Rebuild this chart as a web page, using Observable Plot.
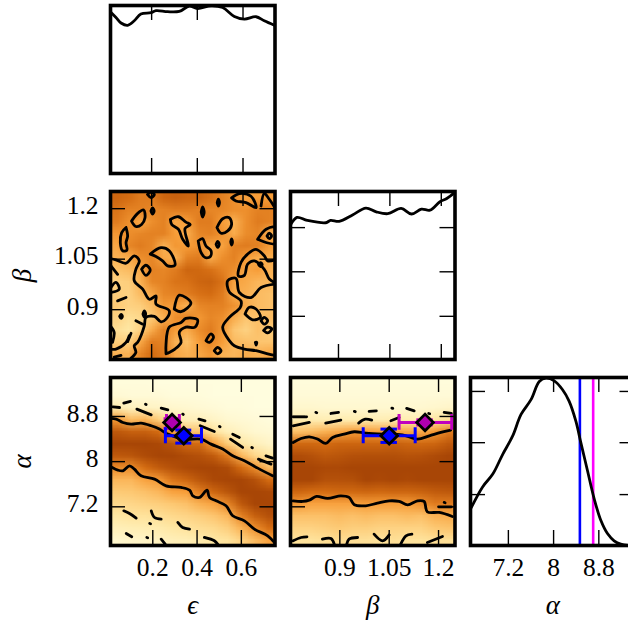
<!DOCTYPE html>
<html><head><meta charset="utf-8">
<script src="https://cdn.jsdelivr.net/npm/d3@7"></script>
<script src="https://cdn.jsdelivr.net/npm/@observablehq/plot@0.6"></script>
<style>html,body{margin:0;padding:0;background:#fff}#c{position:relative;width:628px;height:624px;overflow:hidden}#c svg{position:absolute;overflow:visible;background:transparent!important}</style>
</head><body><div id="c"></div>
<script>
// ---- tick values
const epsTicks=[0.2,0.4,0.6], betaTicks=[0.9,1.05,1.2], alphaTicks=[7.2,8,8.8];
// ---- marginal curves
const epsHist=[[.019,.963],[.044,.929],[.066,.896],[.095,.882],[.124,.909],[.153,.949],[.197,.957],[.219,.969],[.270,.963],[.321,.965],[.365,.996],[.401,.982],[.460,.998],[.511,.988],[.562,.935],[.606,.919],[.657,.933],[.693,.909],[.737,.882]];
const betaHist=[[.761,.804],[.779,.846],[.809,.828],[.863,.814],[.877,.828],[.902,.822],[.941,.860],[.980,.901],[1.010,.879],[1.044,.868],[1.083,.899],[1.113,.866],[1.142,.895],[1.167,.889],[1.196,.939],[1.216,.958],[1.240,.996]];
const alphaHist=[[6.541,.224],[6.747,.350],[6.924,.425],[7.1,.543],[7.276,.652],[7.424,.780],[7.6,.868],[7.747,.976],[7.865,.996],[8.012,.980],[8.159,.927],[8.276,.858],[8.394,.740],[8.482,.612],[8.6,.445],[8.718,.278],[8.835,.150],[8.953,.071],[9.071,.028],[9.188,.008],[9.335,0],[9.45,0]];
const betaDensTicks=[.785,.522,.257], alphaDensTicks=[.917,.612,.303];
const alphaBlue=8.465, alphaMagenta=8.7;
// ---- density grids (estimated)
const epsBetaGrid=[
[.72,.68,.62,.62,.72,.75,.72,.72,.66,.6,.55,.48,.5,.5],
[.65,.6,.6,.58,.6,.62,.62,.6,.58,.58,.55,.55,.6,.6],
[.62,.55,.46,.55,.6,.46,.5,.62,.62,.5,.42,.55,.62,.6],
[.52,.55,.58,.6,.6,.5,.44,.58,.6,.54,.44,.56,.58,.42],
[.46,.58,.62,.58,.42,.52,.5,.54,.46,.48,.6,.62,.6,.5],
[.42,.44,.55,.58,.46,.42,.6,.62,.44,.55,.6,.5,.44,.44],
[.35,.38,.45,.6,.58,.62,.72,.7,.66,.6,.55,.46,.5,.42],
[.28,.3,.42,.58,.6,.65,.66,.72,.74,.66,.48,.45,.4,.4],
[.3,.28,.38,.46,.58,.6,.62,.66,.68,.62,.44,.42,.38,.36],
[.32,.28,.3,.38,.52,.5,.42,.58,.6,.6,.54,.44,.38,.36],
[.28,.22,.25,.32,.42,.55,.6,.52,.58,.55,.44,.34,.36,.38],
[.22,.18,.28,.44,.6,.5,.45,.56,.62,.52,.34,.28,.36,.3],
[.3,.28,.45,.62,.6,.42,.36,.5,.58,.5,.38,.36,.34,.34],
[.42,.42,.58,.68,.62,.46,.42,.46,.52,.42,.4,.44,.42,.46]];
const epsAlphaCols=[
[.02,.04,.14,.52,.8,.95,.8,.57,.4,.32,.25,.18,.12,.06],
[.02,.03,.1,.38,.75,.93,.82,.56,.4,.33,.26,.2,.13,.07],
[.02,.03,.09,.42,.75,.92,.88,.68,.48,.36,.28,.2,.14,.08],
[.01,.03,.08,.3,.68,.9,.98,.78,.52,.4,.3,.22,.15,.1],
[.01,.02,.06,.17,.48,.82,.92,.85,.65,.48,.33,.25,.18,.12],
[.01,.02,.05,.12,.35,.7,.88,.9,.72,.5,.36,.27,.2,.13],
[.01,.02,.04,.11,.35,.68,.85,.92,.82,.62,.43,.3,.23,.15],
[.01,.01,.03,.08,.2,.5,.78,.98,.9,.72,.48,.34,.25,.18],
[.01,.01,.02,.05,.12,.32,.62,.88,.95,.82,.58,.4,.3,.2],
[.01,.01,.02,.04,.08,.18,.4,.68,.95,.98,.8,.6,.42,.28],
[.01,.01,.01,.03,.05,.12,.26,.55,.85,.98,.92,.75,.55,.38],
[.01,.01,.01,.02,.04,.08,.18,.38,.68,.9,.96,.85,.68,.48]];
const betaAlphaCols=[
[.02,.03,.06,.14,.36,.7,.88,1,.95,.72,.52,.36,.28,.2],
[.02,.03,.06,.14,.38,.7,.85,.96,.92,.68,.48,.36,.28,.2],
[.02,.03,.05,.13,.42,.68,.8,.9,.85,.68,.48,.36,.3,.22],
[.02,.03,.05,.14,.46,.72,.82,.9,.85,.7,.48,.38,.32,.24],
[.02,.03,.05,.14,.5,.72,.85,.93,.86,.7,.48,.36,.3,.22],
[.02,.03,.05,.14,.5,.72,.86,.98,.92,.72,.5,.38,.3,.22],
[.02,.03,.05,.13,.48,.72,.86,.96,.9,.7,.5,.36,.28,.2],
[.02,.03,.05,.14,.48,.75,.86,.95,.93,.72,.5,.36,.28,.22],
[.02,.03,.05,.14,.46,.72,.84,.98,.9,.72,.5,.38,.28,.2],
[.02,.03,.05,.13,.45,.7,.85,.96,.95,.74,.55,.36,.28,.2],
[.02,.03,.06,.18,.52,.72,.88,1,.95,.78,.62,.42,.33,.22],
[.02,.03,.07,.22,.62,.8,.95,1.05,.98,.8,.62,.44,.35,.22]];
// ---- contour traces [eps, beta]
const closed=p=>[...p,p[0]];
const epsBetaContours=[
closed([[.112,1.163],[.139,1.186],[.165,1.196],[.171,1.173],[.156,1.153],[.131,1.147]]),
closed([[.088,1.144],[.095,1.119],[.088,1.099],[.092,1.077],[.073,1.075],[.063,1.099],[.069,1.129]]),
closed([[.282,1.168],[.317,1.176],[.350,1.160],[.369,1.153],[.346,1.141],[.361,1.089],[.336,1.109],[.317,1.139],[.288,1.153]]),
closed([[.486,1.144],[.511,1.170],[.540,1.173],[.550,1.153],[.533,1.134],[.504,1.127]]),
closed([[.404,1.104],[.423,1.111],[.438,1.089],[.460,1.075],[.457,1.058],[.434,1.055],[.416,1.070]]),
closed([[.194,1.065],[.241,1.084],[.277,1.075],[.302,1.032],[.270,1.030],[.248,1.045],[.219,1.058]]),
[[.019,1.052],[.044,1.048],[.088,1.038],[.124,1.060],[.146,1.045],[.131,1.020],[.124,.986],[.161,.961],[.190,.931],[.219,.941],[.219,.917],[.277,.897],[.263,.872],[.241,.864],[.212,.880],[.175,.877],[.168,.852],[.139,.803],[.124,.793],[.131,.773],[.110,.756]],
closed([[.156,1.020],[.175,1.032],[.194,1.018],[.175,1.002]]),
closed([[.299,.902],[.321,.943],[.372,.920],[.329,.894]]),
closed([[.263,.769],[.263,.798],[.277,.848],[.329,.862],[.350,.874],[.401,.870],[.390,.848],[.350,.848],[.321,.833],[.329,.803],[.302,.783],[.277,.773]]),
closed([[.438,.808],[.460,.828],[.471,.818],[.453,.803]]),
closed([[.474,.778],[.489,.788],[.504,.778],[.489,.769]]),
[[.740,1.048],[.708,1.045],[.693,1.060],[.657,1.079],[.620,1.065],[.591,1.040],[.580,1.000],[.606,1.002],[.620,1.035],[.650,1.045],[.693,1.020],[.715,.991],[.737,.981]],
[[.740,.976],[.679,.966],[.635,.936],[.584,.951],[.569,.993],[.533,.986],[.540,.953],[.591,.926],[.588,.907],[.540,.877],[.511,.848],[.540,.808],[.562,.793],[.606,.783],[.657,.778],[.708,.769],[.740,.764]],
closed([[.609,.887],[.628,.907],[.657,.902],[.676,.877],[.642,.870]]),
closed([[.679,.867],[.693,.877],[.708,.867],[.693,.857]]),
closed([[.690,.838],[.708,.848],[.726,.843],[.708,.831]]),
closed([[.654,.803],[.660,.803],[.657,.795]]),
closed([[.550,1.232],[.584,1.245],[.635,1.237],[.657,1.203],[.613,1.218],[.569,1.223]]),
[[.679,1.208],[.693,1.245],[.715,1.228],[.737,1.206]],
closed([[.664,1.109],[.701,1.139],[.740,1.144],[.740,1.097]]),
closed([[.182,1.242],[.197,1.249],[.212,1.242],[.197,1.233]]),
closed([[.197,1.193],[.204,1.202],[.211,1.193],[.204,1.184]]),
closed([[.417,1.190],[.423,1.205],[.430,1.190],[.423,1.175]]),
closed([[.487,1.218],[.492,1.228],[.497,1.218],[.492,1.208]]),
closed([[.482,1.094],[.489,1.103],[.496,1.094],[.489,1.085]]),
closed([[.546,1.101],[.550,1.110],[.554,1.101],[.550,1.092]]),
[[.022,.966],[.044,.981],[.058,.961],[.022,.951]],
[[.051,.926],[.088,.936]],
closed([[.060,.880],[.066,.886],[.072,.880],[.066,.874]]),
closed([[.162,.887],[.168,.896],[.174,.887],[.168,.878]]),
[[.131,.867],[.161,.857]],
[[.019,.852],[.036,.833],[.029,.803]],
[[.102,.823],[.088,.803],[.044,.783],[.022,.783]],
[[.066,.764],[.036,.759]],
[[.110,.83],[.095,.805]],
[[.022,1.030],[.051,1.005]],
closed([[.705,1.119],[.715,1.127],[.725,1.119],[.715,1.111]]),
closed([[.668,1.034],[.676,1.040],[.684,1.034],[.676,1.028]])
];
const epsAlphaContours=[
[[.009,8.765],[.035,8.753],[.065,8.694],[.102,8.664],[.147,8.682],[.193,8.635],[.230,8.576],[.268,8.487],[.343,8.399],[.418,8.399],[.463,8.310],[.516,8.222],[.561,8.103],[.614,8.015],[.674,7.885],[.741,7.749]],
[[.017,7.897],[.042,7.850],[.065,7.838],[.095,7.926],[.117,7.867],[.147,7.749],[.208,7.690],[.260,7.572],[.328,7.543],[.366,7.495],[.381,7.395],[.411,7.366],[.445,7.495],[.456,7.366],[.486,7.306],[.531,7.218],[.561,7.041],[.614,6.952],[.659,6.805],[.719,6.687],[.749,6.569]],
[[.020,8.971],[.050,8.959]],[[.069,9.036],[.099,9.066]],[[.167,9.018],[.170,9.012]],[[.128,8.930],[.193,8.829]],[[.238,8.948],[.268,8.918]],[[.335,8.842],[.338,8.836]],[[.408,8.753],[.436,8.723]],[[.414,8.635],[.478,8.534]],[[.501,8.623],[.504,8.617]],[[.561,8.487],[.591,8.428]],[[.551,8.399],[.606,8.251]],[[.647,8.251],[.650,8.245]],[[.711,8.103],[.741,8.062]],[[.677,8.044],[.734,7.956]],
[[.069,7.129],[.095,7.082],[.125,7.0]],[[.193,7.129],[.208,7.011],[.238,6.982]],[[.186,6.905],[.190,6.900]],[[.313,6.923],[.335,6.834],[.366,6.805]],[[.080,6.728],[.105,6.669]],[[.173,6.657],[.177,6.652]],[[.238,6.628],[.256,6.539]],[[.433,6.657],[.478,6.598],[.493,6.539]]
];
const betaAlphaContours=[
[[.758,8.340],[.782,8.410],[.807,8.440],[.832,8.400],[.857,8.322],[.878,8.428],[.913,8.487],[.944,8.529],[.979,8.505],[1.030,8.487],[1.090,8.475],[1.136,8.399],[1.172,8.457],[1.207,8.517],[1.237,8.558]],
[[.758,7.306],[.787,7.295],[.807,7.318],[.829,7.383],[.863,7.348],[.903,7.395],[.928,7.366],[.944,7.236],[.979,7.218],[1.014,7.265],[1.050,7.306],[1.080,7.295],[1.106,7.236],[1.136,7.306],[1.156,7.295],[1.166,7.112],[1.202,7.100],[1.242,7.029]],
[[.758,8.794],[.799,8.794]],[[.758,8.635],[.807,8.694]],[[.827,8.871],[.830,8.866]],[[.873,8.853],[.896,8.871]],[[.857,8.682],[.903,8.735]],[[.944,8.889],[.947,8.884]],[[.989,8.889],[1.011,8.900]],[[.957,8.682],[.977,8.753],[.997,8.735]],[[1.058,8.948],[1.061,8.943]],[[1.103,8.942],[1.126,8.900]],[[1.055,8.723],[1.080,8.782]],[[1.217,8.871],[1.239,8.853]],[[1.170,8.853],[1.173,8.848]],
[[.758,6.598],[.782,6.657],[.800,6.669]],[[.847,6.628],[.873,6.639],[.883,6.539]],[[.921,6.539],[.928,6.628],[.954,6.657]],[[1.004,6.716],[1.030,6.598],[1.050,6.704]],[[1.085,6.539],[1.101,6.687],[1.119,6.716]],[[1.166,6.569],[1.212,6.675]],
[[1.217,7.277],[1.220,7.272]],[[1.200,7.2],[1.239,7.2]]
];
// ---- point estimates with errors: [x, xLow, xHigh, y, yLow, yHigh]
const epsBlue=[.34,.257,.42,8.458,8.328,8.558], epsMag=[.287,.262,.32,8.694,8.59,8.76];
const betaBlue=[1.05,.971,1.129,8.458,8.34,8.576], betaMag=[1.159,1.08,1.24,8.694,8.65,8.74];

const C=document.getElementById("c");
const serif="'Liberation Serif','Times New Roman',serif";
const FS=25.5, TL=15;
const colorOpt={type:"linear",domain:[0,.17,.33,.5,.68,.92],range:["#fffee2","#ffe9a6","#fdc872","#f79d38","#d46c12","#a84606"],clamp:true};
const XL={eps:[.009,.752],eps2:[.02,.74],beta:[.75,1.25],beta2:[.76,1.24],alpha:[6.53,9.44]};
const YL={beta:[.752,1.251],alpha:[6.515,9.49]};

function line(p,w=2.8){return Plot.line(p,{x:d=>d[0],y:d=>d[1],stroke:"#000",strokeWidth:w,curve:"catmull-rom",clip:true,strokeLinecap:"round"});}
function grid(vals,W,H,xd,yd){return Plot.raster(vals,{width:W,height:H,x1:xd[0],x2:xd[1],y1:yd[1],y2:yd[0],fill:d=>d,imageRendering:"auto"});}
function est(e,color,cx,cy,fill,dr=7.5){
 const [x,x0,x1,y,y0,y1]=e;
 return [
  Plot.ruleY([y],{x1:x0,x2:x1,stroke:color,strokeWidth:3,clip:true}),
  Plot.ruleX([x],{y1:y0,y2:y1,stroke:color,strokeWidth:3}),
  Plot.ruleX([x0,x1],{x:d=>d,y1:y-cy,y2:y+cy,stroke:color,strokeWidth:3,clip:true}),
  Plot.ruleY([y0,y1],{y:d=>d,x1:x-cx,x2:x+cx,stroke:color,strokeWidth:3}),
  Plot.dot([0],{x:()=>x,y:()=>y,symbol:"diamond2",r:dr,fill,stroke:"#000",strokeWidth:2.8})
 ];
}
function panel(o){
 const ml=100,mt=5,mb=72,mr=6,h=168,w=o.w||164.5;
 const m=[...(o.marks||[])];
 const ts={stroke:"#000",strokeWidth:1.4};
 if(o.xt){m.push(Plot.tickX(o.xt,{x:d=>d,insetBottom:h-TL,...ts}),Plot.tickX(o.xt,{x:d=>d,insetTop:h-TL,...ts}));}
 if(o.yt){m.push(Plot.tickY(o.yt,{y:d=>d,insetRight:w-TL,...ts}),Plot.tickY(o.yt,{y:d=>d,insetLeft:w-TL,...ts}));}
 m.push(Plot.frame({stroke:"#000",strokeWidth:3.6}));
 const tx={fontSize:FS,tickSize:0,tickFormat:d=>String(d),fill:"#000"};
 if(o.xl) m.push(Plot.axisX(o.xt,{anchor:"bottom",tickPadding:12,label:null,...tx}));
 else m.push(Plot.axisX([], {anchor:"bottom",label:null}));
 if(o.yl) m.push(Plot.axisY(o.yt,{anchor:"left",tickPadding:12,dy:-3,label:null,...tx}));
 else m.push(Plot.axisY([], {anchor:"left",label:null}));
 if(o.xName) m.push(Plot.text([o.xName],{text:d=>d,frameAnchor:"bottom",textAnchor:"middle",dy:68,fontSize:27,fontStyle:"italic",fill:"#000"}));
 if(o.yName) m.push(Plot.text([o.yName],{text:d=>d,frameAnchor:"left",textAnchor:"middle",dx:-88,rotate:-90,fontSize:27,fontStyle:"italic",fill:"#000"}));
 const p=Plot.plot({width:ml+w+mr,height:mt+h+mb,marginLeft:ml,marginRight:mr,marginTop:mt,marginBottom:mb,
  style:{fontFamily:serif,background:"transparent",overflow:"visible"},
  x:{domain:o.xd,axis:null},y:{domain:o.yd,axis:null},color:colorOpt,marks:m});
 p.style.left=(o.left-ml)+"px"; p.style.top=(o.top-mt)+"px";
 C.appendChild(p);
}
const L=[109.5,289.5,469.5],T=[5,190.5,377];
panel({left:L[0],top:T[0],xd:XL.eps2,yd:[0,1],xt:epsTicks,marks:[line(epsHist)]});
panel({left:L[0],top:T[1],xd:XL.eps2,yd:YL.beta,xt:epsTicks,yt:betaTicks,yl:true,yName:"β",
 marks:[grid(epsBetaGrid.flat(),14,14,XL.eps2,YL.beta),...epsBetaContours.map(c=>line(c))]});
panel({left:L[1],top:T[1],xd:XL.beta2,yd:[0,1],xt:betaTicks,yt:betaDensTicks,marks:[line(betaHist)]});
panel({left:L[0],top:T[2],xd:XL.eps,yd:YL.alpha,xt:epsTicks,yt:alphaTicks,xl:true,yl:true,xName:"ϵ",yName:"α",
 marks:[grid(d3.transpose(epsAlphaCols).flat(),12,14,XL.eps,YL.alpha),...epsAlphaContours.map(c=>line(c)),...est(epsMag,"#bf00bf",.036,.14,"#b000b0"),...est(epsBlue,"#0000ff",.036,.14,"#0000ff")]});
panel({left:L[1],top:T[2],xd:XL.beta,yd:YL.alpha,xt:betaTicks,yt:alphaTicks,xl:true,xName:"β",
 marks:[grid(d3.transpose(betaAlphaCols).flat(),12,14,XL.beta,YL.alpha),...betaAlphaContours.map(c=>line(c)),...est(betaMag,"#bf00bf",.025,.14,"#b000b0"),...est(betaBlue,"#0000ff",.025,.14,"#0000ff")]});
panel({left:L[2],top:T[2],xd:XL.alpha,yd:[0,1],xt:alphaTicks,yt:alphaDensTicks,xl:true,xName:"α",
 marks:[Plot.ruleX([alphaBlue],{stroke:"#0000ff",strokeWidth:2.6}),Plot.ruleX([alphaMagenta],{stroke:"#ff00ff",strokeWidth:2.6}),line(alphaHist)]});
</script></body></html>
